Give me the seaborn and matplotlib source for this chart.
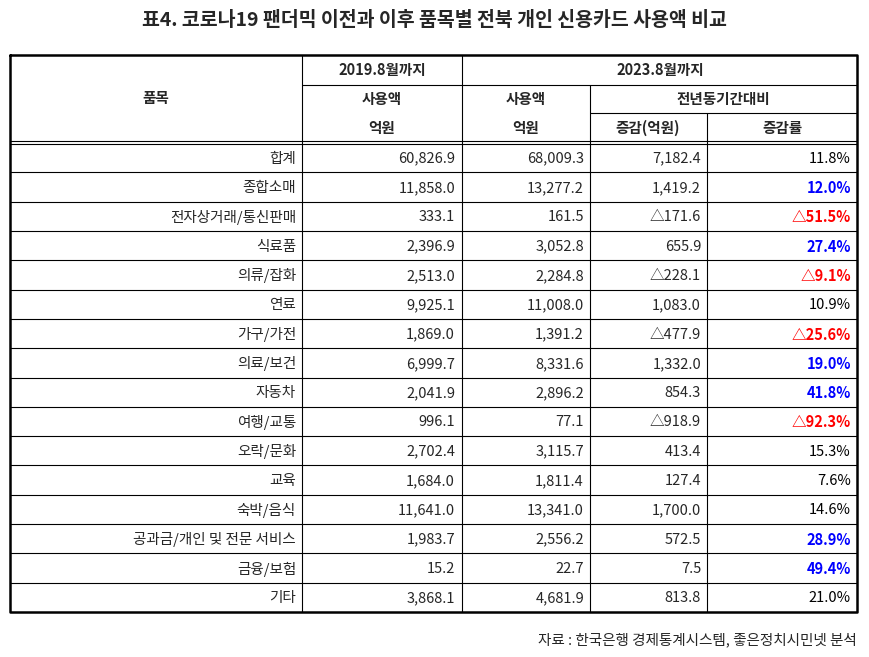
import matplotlib.pyplot as plt
import seaborn as sns

items = ['합계', '종합소매', '전자상거래/통신판매', '식료품', '의류/잡화', '연료', '가구/가전',
         '의료/보건', '자동차', '여행/교통', '오락/문화', '교육', '숙박/음식',
         '공과금/개인 및 전문 서비스', '금융/보험', '기타']
use_2019 = ['60,826.9', '11,858.0', '333.1', '2,396.9', '2,513.0', '9,925.1', '1,869.0', '6,999.7',
            '2,041.9', '996.1', '2,702.4', '1,684.0', '11,641.0', '1,983.7', '15.2', '3,868.1']
use_2023 = ['68,009.3', '13,277.2', '161.5', '3,052.8', '2,284.8', '11,008.0', '1,391.2', '8,331.6',
            '2,896.2', '77.1', '3,115.7', '1,811.4', '13,341.0', '2,556.2', '22.7', '4,681.9']
diff = ['7,182.4', '1,419.2', '△171.6', '655.9', '△228.1', '1,083.0', '△477.9', '1,332.0',
        '854.3', '△918.9', '413.4', '127.4', '1,700.0', '572.5', '7.5', '813.8']
rate = ['11.8%', '12.0%', '△51.5%', '27.4%', '△9.1%', '10.9%', '△25.6%', '19.0%',
        '41.8%', '△92.3%', '15.3%', '7.6%', '14.6%', '28.9%', '49.4%', '21.0%']
highlight_up = ['종합소매', '식료품', '의료/보건', '자동차', '공과금/개인 및 전문 서비스', '금융/보험']

sns.set_style('white')
plt.rcParams['font.family'] = ['Noto Sans CJK KR', 'Noto Sans CJK JP', 'Noto Sans CJK SC', 'DejaVu Sans']
plt.rcParams['font.sans-serif'] = ['Noto Sans CJK KR', 'Noto Sans CJK JP', 'Noto Sans CJK SC', 'DejaVu Sans']

fig = plt.figure(figsize=(8.69, 6.57), dpi=100)
ax = fig.add_axes([0, 0, 1, 1])
ax.set_xlim(0, 869)
ax.set_ylim(657, 0)
ax.axis('off')

cols = [10, 302, 462, 590, 707, 857]
top = 143
bottom = 612
rh = (bottom - top) / len(items)

def hl(y, x0, x1, lw=0.8):
    ax.plot([x0, x1], [y, y], color='black', lw=lw)

def vl(x, y0, y1, lw=0.8):
    ax.plot([x, x], [y0, y1], color='black', lw=lw)

# header lines
hl(85, cols[1], cols[5])
hl(113, cols[3], cols[5])
vl(cols[1], 55, bottom)
vl(cols[2], 55, bottom)
vl(cols[3], 85, bottom)
vl(cols[4], 113, bottom)
hl(141, cols[0], cols[5], 0.8)
hl(144, cols[0], cols[5], 0.8)
for i in range(1, len(items)):
    hl(top + i * rh, cols[0], cols[5])
ax.plot([10, 857, 857, 10, 10], [55, 55, bottom, bottom, 55], color='black', lw=1.8)

hf = dict(fontsize=10.5, fontweight='bold', ha='center', va='center')
ax.text(156, 98, '품목', **hf)
ax.text(382, 70, '2019.8월까지', **hf)
ax.text(660, 70, '2023.8월까지', **hf)
ax.text(382, 99, '사용액', **hf)
ax.text(382, 128, '억원', **hf)
ax.text(526, 99, '사용액', **hf)
ax.text(526, 128, '억원', **hf)
ax.text(723, 99, '전년동기간대비', **hf)
ax.text(648, 128, '증감(억원)', **hf)
ax.text(782, 128, '증감률', **hf)

for i, name in enumerate(items):
    y = top + (i + 0.5) * rh + 1
    kw = dict(fontsize=10.5, ha='right', va='center')
    ax.text(296, y, name, **kw)
    ax.text(455, y, use_2019[i], **kw)
    ax.text(584, y, use_2023[i], **kw)
    ax.text(701, y, diff[i], **kw)
    if rate[i].startswith('△'):
        ax.text(851, y, rate[i], color='#ff0000', fontweight='bold', **kw)
    elif name in highlight_up:
        ax.text(851, y, rate[i], color='#0000ff', fontweight='bold', **kw)
    else:
        ax.text(851, y, rate[i], color='black', **kw)

ax.text(434, 21, '표4. 코로나19 팬더믹 이전과 이후 품목별 전북 개인 신용카드 사용액 비교',
        fontsize=14, fontweight='bold', ha='center', va='center')
ax.text(857, 640, '자료 : 한국은행 경제통계시스템, 좋은정치시민넷 분석',
        fontsize=10.5, ha='right', va='center')

fig.savefig('out.png', dpi=100)
